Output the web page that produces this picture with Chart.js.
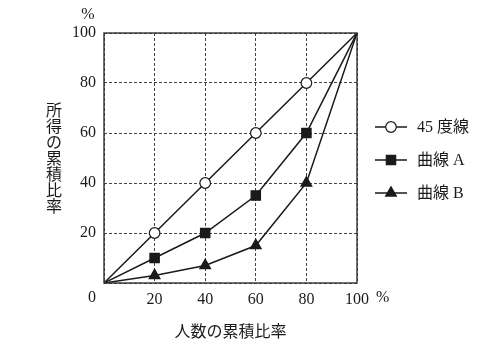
<!DOCTYPE html>
<html><head><meta charset="utf-8">
<script src="https://cdn.jsdelivr.net/npm/chart.js@4/dist/chart.umd.min.js"></script>
<style>html,body{margin:0;padding:0;background:#fff}#wrap{width:500px;height:357px}</style>
</head><body><div id="wrap"><canvas id="c" width="500" height="357"></canvas></div>
<script>
const xValues = [0, 20, 40, 60, 80, 100];
const line45 = [0, 20, 40, 60, 80, 100];
const curveA = [0, 10, 20, 35, 60, 100];
const curveB = [0, 3, 7, 15, 40, 100];
const seriesLabels = ['45 度線', '曲線 A', '曲線 B'];
const yTitle = '所得の累積比率';
const xTitle = '人数の累積比率';
const unitLabel = '%';
const originLabel = '0';

const FONT = '"Liberation Serif", "Noto Sans CJK JP", serif';
const INK = '#1a1a1a';

function pts(ys){ return xValues.map((x,i)=>({x:x, y:ys[i]})); }
function radiusFn(r){ return ctx => (ctx.dataIndex===0 || ctx.dataIndex===xValues.length-1) ? 0 : r; }

const styles = [
  {pointStyle:'circle', r:5.3, fill:'#fff'},
  {pointStyle:'rect', r:6.6, fill:INK},
  {pointStyle:'triangle', r:6.2, fill:INK}
];
const seriesData = [line45, curveA, curveB];

const datasets = seriesData.map((d,i)=>({
  label: seriesLabels[i],
  data: pts(d),
  borderColor: INK,
  borderWidth: 1.5,
  backgroundColor: styles[i].fill,
  pointBackgroundColor: styles[i].fill,
  pointBorderColor: INK,
  pointBorderWidth: 1.2,
  pointStyle: styles[i].pointStyle,
  pointRadius: radiusFn(styles[i].r),
  tension: 0
}));

function drawMarker(ctx, style, r, x, y, fill){
  ctx.save();
  ctx.fillStyle = fill; ctx.strokeStyle = INK; ctx.lineWidth = 1.2;
  ctx.beginPath();
  if (style==='circle'){ ctx.arc(x,y,r,0,Math.PI*2); }
  else if (style==='rect'){ const s=Math.SQRT1_2*r; ctx.rect(x-s,y-s,2*s,2*s); }
  else { const w=r*Math.sqrt(3)/2; ctx.moveTo(x, y-r); ctx.lineTo(x+w, y+r/2); ctx.lineTo(x-w, y+r/2); ctx.closePath(); }
  ctx.fill(); ctx.stroke();
  ctx.restore();
}

const extras = {
  id:'extras',
  afterDatasetsDraw(chart){
    const {ctx, chartArea:a} = chart;
    ctx.save();
    ctx.strokeStyle = '#333'; ctx.lineWidth = 1.4; ctx.setLineDash([]);
    ctx.strokeRect(a.left, a.top, a.right-a.left, a.bottom-a.top);
    ctx.fillStyle = INK;
    ctx.font = '16px ' + FONT;
    ctx.textAlign = 'center'; ctx.textBaseline = 'middle';
    ctx.fillText(originLabel, a.left-12, a.bottom+15);
    ctx.fillText(unitLabel, a.left-16, a.top-18);
    ctx.textAlign = 'left';
    ctx.fillText(unitLabel, a.right+19, a.bottom+15);
    // vertical y title
    ctx.font = '16px ' + FONT;
    ctx.textAlign = 'center';
    const n = yTitle.length, step = 16;
    const cy = (a.top+a.bottom)/2 + 2;
    for (let i=0;i<n;i++){
      ctx.fillText(yTitle[i], 54, cy + (i-(n-1)/2)*step);
    }
    // legend
    const lx0 = a.right+18, lx1 = a.right+50, mx = a.right+34, tx = a.right+60;
    const rows = [127, 160, 193];
    ctx.font = '16px ' + FONT;
    ctx.textAlign = 'left';
    chart.data.datasets.forEach((ds,i)=>{
      const y = rows[i];
      ctx.strokeStyle = INK; ctx.lineWidth = 1.5;
      ctx.beginPath(); ctx.moveTo(lx0,y); ctx.lineTo(lx1,y); ctx.stroke();
      drawMarker(ctx, styles[i].pointStyle, styles[i].r, mx, y, styles[i].fill);
      ctx.fillStyle = INK;
      ctx.fillText(ds.label, tx, y+1);
    });
    ctx.restore();
  }
};

new Chart(document.getElementById('c'), {
  type:'line',
  data:{ datasets },
  plugins:[extras],
  options:{
    responsive:false, animation:false,
    layout:{ padding:{ left:0, right:143, top:33, bottom:0 } },
    plugins:{ legend:{display:false}, tooltip:{enabled:false} },
    scales:{
      x:{
        type:'linear', min:0, max:100,
        afterFit(s){ s.height = 74; },
        afterBuildTicks(s){ s.ticks = xValues.map(v=>({value:v})); },
        ticks:{ padding:7, color:INK, font:{family:FONT, size:16},
          callback:(v)=> v===0 ? '' : String(v) },
        grid:{ color:'#444', lineWidth:1, drawTicks:false },
        border:{ display:false, dash:[3,2] },
        title:{ display:true, text:xTitle, color:INK, font:{family:FONT, size:16}, padding:{top:0, bottom:15} }
      },
      y:{
        min:0, max:100,
        afterFit(s){ s.width = 104; },
        afterBuildTicks(s){ s.ticks = line45.map(v=>({value:v})); },
        ticks:{ padding:8, color:INK, font:{family:FONT, size:16},
          callback:(v)=> v===0 ? '' : String(v) },
        grid:{ color:'#444', lineWidth:1, drawTicks:false },
        border:{ display:false, dash:[3,2] }
      }
    }
  }
});
</script></body></html>
